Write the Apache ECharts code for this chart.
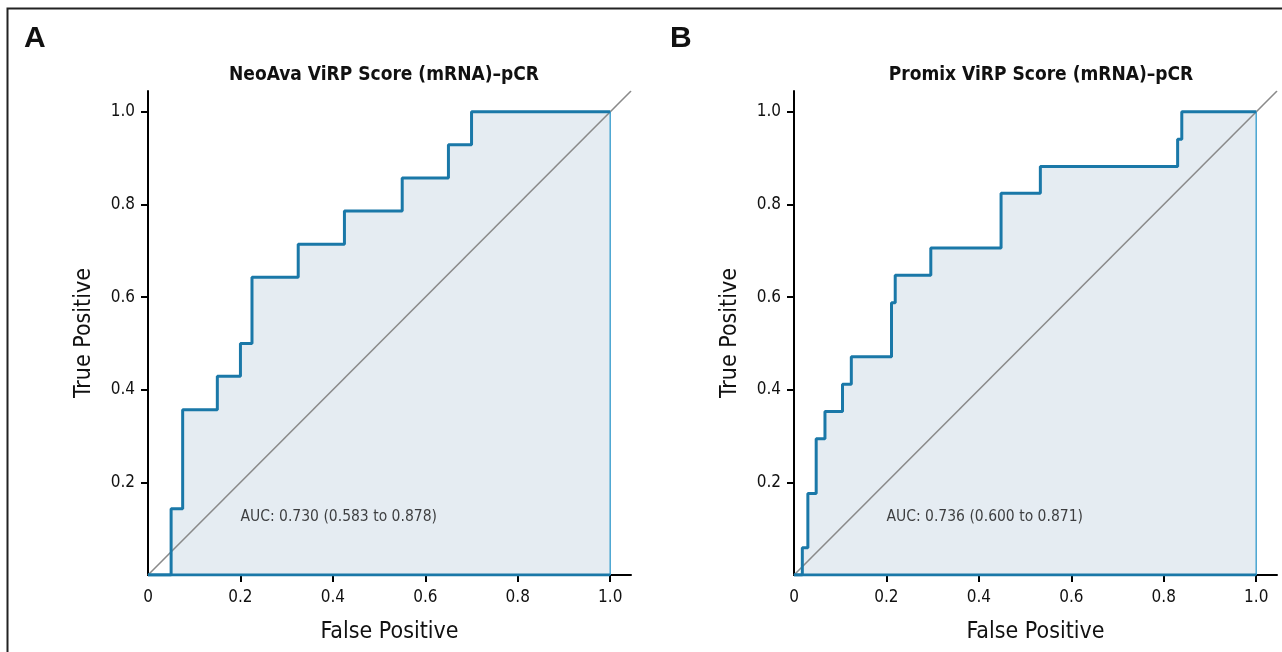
<!DOCTYPE html>
<html lang="en">
<head>
    <meta charset="UTF-8">
    <title>ViRP Score ROC</title>
    <script src="https://cdn.jsdelivr.net/npm/echarts@6/dist/echarts.min.js"></script>
    <style>
        html, body { margin: 0; padding: 0; background: #fff; }
        #chart { width: 1282px; height: 652px; }
    </style>
</head>
<body>
<div id="chart"></div>
<script>
  // ROC points (corners)
  var fprA = [0, 0.05, 0.075, 0.15, 0.2, 0.225, 0.325, 0.425, 0.55, 0.65, 0.70, 1.0];
  var tprA = [0, 0.143, 0.357, 0.429, 0.5, 0.643, 0.714, 0.786, 0.857, 0.929, 1.0, 1.0];

  var fprB = [0, 0.018, 0.03, 0.048, 0.067, 0.105, 0.124, 0.211, 0.219, 0.296, 0.448, 0.533, 0.830, 0.839, 1.0];
  var tprB = [0, 0.059, 0.176, 0.294, 0.353, 0.412, 0.471, 0.588, 0.647, 0.706, 0.824, 0.882, 0.941, 1.0, 1.0];

  var titles = ['NeoAva ViRP Score (mRNA)\u2013pCR', 'Promix ViRP Score (mRNA)\u2013pCR'];
  var aucText = ['AUC: 0.730 (0.583 to 0.878)', 'AUC: 0.736 (0.600 to 0.871)'];
  var aucPos = [0.2, 0.125];
  var panelLetters = ['A', 'B'];

  var xLabelVals = [0, 0.2, 0.4, 0.6, 0.8, 1.0];
  var yLabelVals = [0.2, 0.4, 0.6, 0.8, 1.0];
  var tickVals = [0.2, 0.4, 0.6, 0.8, 1.0];
  var axisMax = 1.045;
  var chanceX = [0, axisMax];
  var chanceY = [0, axisMax];

  var FONT = "'Liberation Sans Narrow', 'DejaVu Sans Condensed', sans-serif";
  var lineBlue = '#1a78a8';

  function pairs(xs, ys) {
    return xs.map(function (x, i) { return [x, ys[i]]; });
  }

  var gridLefts = [148, 794];
  var grids = [], xAxes = [], yAxes = [], series = [], titleList = [], graphics = [];

  [[fprA, tprA], [fprB, tprB]].forEach(function (d, i) {
    grids.push({ left: gridLefts[i], top: 91, width: 483, height: 484 });
    xAxes.push({
      type: 'value', gridIndex: i, min: 0, max: axisMax, interval: 0.2,
      name: 'False Positive', nameLocation: 'middle', nameGap: 46,
      nameTextStyle: { fontFamily: FONT, fontSize: 23, color: '#111' },
      splitLine: { show: false },
      axisLine: { lineStyle: { color: '#000', width: 2 } },
      axisTick: { show: true, length: 7, customValues: tickVals, lineStyle: { color: '#000', width: 2 } },
      axisLabel: {
        customValues: xLabelVals, margin: 14, fontFamily: FONT, fontSize: 17, color: '#111',
        formatter: function (v) { return v === 0 ? '0' : v.toFixed(1); }
      }
    });
    yAxes.push({
      type: 'value', gridIndex: i, min: 0, max: axisMax, interval: 0.2,
      name: 'True Positive', nameLocation: 'middle', nameGap: 52,
      nameTextStyle: { fontFamily: FONT, fontSize: 23, color: '#111' },
      splitLine: { show: false },
      axisLine: { show: true, lineStyle: { color: '#000', width: 2 } },
      axisTick: { show: true, length: 7, customValues: tickVals, lineStyle: { color: '#000', width: 2 } },
      axisLabel: {
        customValues: yLabelVals, margin: 13, fontFamily: FONT, fontSize: 17, color: '#111',
        formatter: function (v) { return v.toFixed(1); }
      }
    });

    // filled area under ROC
    series.push({
      type: 'line', xAxisIndex: i, yAxisIndex: i, data: pairs(d[0], d[1]), step: 'end',
      symbol: 'none', lineStyle: { width: 0 }, areaStyle: { color: '#e5ecf2', opacity: 1 },
      z: 1, silent: true
    });
    // chance line
    series.push({
      type: 'line', xAxisIndex: i, yAxisIndex: i, data: pairs(chanceX, chanceY),
      symbol: 'none', lineStyle: { color: '#8a8a8a', width: 1.6 }, z: 2, silent: true
    });
    // right edge of the filled region
    series.push({
      type: 'line', xAxisIndex: i, yAxisIndex: i, data: [[1, 0], [1, 1]],
      symbol: 'none', lineStyle: { color: '#3d9fce', width: 1.4 }, z: 3, silent: true
    });
    // bottom edge
    series.push({
      type: 'line', xAxisIndex: i, yAxisIndex: i, data: [[0, 0], [1, 0]],
      symbol: 'none', lineStyle: { color: lineBlue, width: 2.8 }, z: 3, silent: true
    });
    // ROC curve
    series.push({
      type: 'line', xAxisIndex: i, yAxisIndex: i, data: pairs(d[0], d[1]), step: 'end',
      symbol: 'none', lineStyle: { color: lineBlue, width: 3 }, z: 4, silent: true
    });
    // AUC annotation
    series.push({
      type: 'scatter', xAxisIndex: i, yAxisIndex: i, data: [aucPos], symbolSize: 0, z: 5, silent: true,
      label: {
        show: true, position: 'right', distance: 0, formatter: aucText[i],
        fontFamily: FONT, fontSize: 15.5, color: '#111'
      }
    });

    titleList.push({
      text: titles[i], left: gridLefts[i] + (i === 0 ? 231 : 242), top: 61, textAlign: 'center',
      textStyle: { fontFamily: FONT, fontSize: 19, fontWeight: 'bold', color: '#111' }
    });
    graphics.push({
      type: 'text', left: i === 0 ? 24 : 670, top: 24,
      style: { text: panelLetters[i], font: 'bold 30px "Liberation Sans", Arial, sans-serif', fill: '#111' }
    });
  });

  // outer frame
  graphics.push({
    type: 'rect', left: 5, top: 6, z: 10,
    shape: { width: 1300, height: 700 },
    style: { fill: 'none', stroke: '#222', lineWidth: 2 }
  });

  var chart = echarts.init(document.getElementById('chart'));
  chart.setOption({
    animation: false,
    backgroundColor: '#fff',
    title: titleList,
    grid: grids,
    xAxis: xAxes,
    yAxis: yAxes,
    series: series,
    graphic: graphics
  });
</script>
</body>
</html>
